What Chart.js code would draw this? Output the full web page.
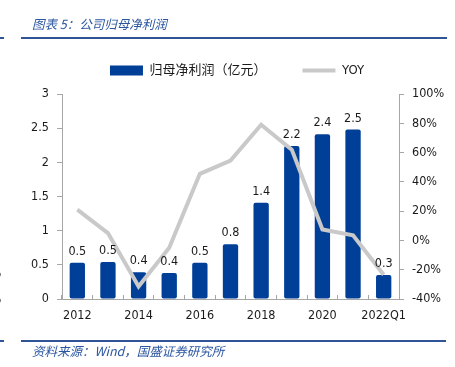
<!DOCTYPE html>
<html lang="zh-CN">
<head>
  <meta charset="UTF-8">
  <title>公司归母净利润</title>
  <script src="https://cdn.jsdelivr.net/npm/chart.js"></script>
  <style>
    html, body { margin: 0; padding: 0; background: #fff; }
    #wrap { position: relative; width: 455px; height: 367px; overflow: hidden; font-family: 'Noto Sans CJK SC', sans-serif; }
    #chart-box { position: absolute; left: 0; top: 0; width: 455px; height: 367px; }
    .title { position: absolute; left: 32px; top: 14px; font-size: 12.5px; font-style: italic; color: #2a55a0; white-space: nowrap; }
    .source { position: absolute; left: 32px; top: 341px; font-size: 12.5px; font-style: italic; color: #2a55a0; white-space: nowrap; }
    .rule { position: absolute; height: 2px; background: #2f5597; }
    .frag { position: absolute; left: -9px; font-size: 12px; color: #333; font-family: 'DejaVu Sans Condensed', 'DejaVu Sans', sans-serif; }
  </style>
</head>
<body>
  <div id="wrap">
    <div id="chart-box"><canvas id="profitChart"></canvas></div>
    <div class="title">图表 5：公司归母净利润</div>
    <div class="rule" style="left:21px; width:426px; top:37px;"></div>
    <div class="rule" style="left:0; width:4px; top:37px;"></div>
    <div class="rule" style="left:21px; width:425px; top:340px;"></div>
    <div class="rule" style="left:0; width:4px; top:340px;"></div>
    <div class="frag" style="top:266px;">%</div>
    <div class="frag" style="top:292px;">%</div>
    <div class="source">资料来源：Wind，国盛证券研究所</div>
  </div>

  <script>
    const categories = ['2012', '2013', '2014', '2015', '2016', '2017', '2018', '2019', '2020', '2021', '2022Q1'];
    const netProfit = [0.53, 0.54, 0.39, 0.38, 0.53, 0.80, 1.41, 2.24, 2.41, 2.48, 0.35];
    const yoy = [21, 5, -31.5, -5, 45.5, 54.5, 79, 62, 7.5, 3.5, -23.5];
    const leftTicks = { min: 0, max: 3, step: 0.5 };
    const rightTicks = { min: -40, max: 100, step: 20 };

    const numFont = "'DejaVu Sans Condensed', 'DejaVu Sans', 'Noto Sans CJK SC', sans-serif";
    const axisGray = '#a6a6a6';

    // 柱子上方的数值标签
    const barLabels = {
      id: 'barLabels',
      afterDatasetsDraw(chart) {
        const meta = chart.getDatasetMeta(0);
        const ctx = chart.ctx;
        ctx.save();
        ctx.font = '12.5px ' + numFont;
        ctx.fillStyle = '#1a1a1a';
        ctx.textAlign = 'center';
        ctx.textBaseline = 'alphabetic';
        meta.data.forEach((bar, i) => {
          ctx.fillText(netProfit[i].toFixed(1), bar.x, bar.y - 8);
        });
        ctx.restore();
      }
    };

    // 图例和绘图区之间多留一点空
    const legendGap = {
      id: 'legendGap',
      afterInit(chart) {
        const lg = chart.legend;
        if (!lg) return;
        const fit = lg.fit;
        lg.fit = function () { fit.call(this); this.height += 7; };
      }
    };

    new Chart(document.getElementById('profitChart'), {
      type: 'bar',
      data: {
        labels: categories,
        datasets: [{
          label: '归母净利润（亿元）',
          data: netProfit,
          backgroundColor: '#003f98',
          borderRadius: 2,
          borderSkipped: false,
          barPercentage: 0.5,
          categoryPercentage: 1,
          pointStyle: 'rect',
          yAxisID: 'y',
          order: 1
        }, {
          type: 'line',
          label: 'YOY',
          data: yoy,
          borderColor: '#c9c9c9',
          backgroundColor: '#c9c9c9',
          borderWidth: 4,
          pointRadius: 0,
          tension: 0,
          pointStyle: 'line',
          yAxisID: 'y1',
          order: 0
        }]
      },
      options: {
        responsive: true,
        maintainAspectRatio: false,
        animation: false,
        layout: { padding: { left: 19, right: 0, top: 28, bottom: 40 } },
        plugins: {
          tooltip: { enabled: false },
          legend: {
            position: 'top',
            labels: {
              usePointStyle: true,
              pointStyleWidth: 33,
              boxHeight: 10,
              padding: 36,
              color: '#1a1a1a',
              font: { size: 13, family: numFont },
              sort: (a, b) => a.datasetIndex - b.datasetIndex
            }
          }
        },
        scales: {
          x: {
            offset: true,
            afterFit: s => { s.height = 28; },
            grid: { drawOnChartArea: false, tickLength: -4, color: axisGray },
            border: { color: axisGray },
            ticks: {
              autoSkip: false,
              maxRotation: 0,
              padding: 13,
              color: '#1a1a1a',
              font: { size: 12.5, family: numFont },
              callback: (v, i) => (i % 2 === 0 ? categories[i] : '')
            }
          },
          y: {
            position: 'left',
            min: leftTicks.min,
            max: leftTicks.max,
            afterFit: s => { s.width = 43; },
            grid: { drawOnChartArea: false, tickLength: 5, color: axisGray },
            border: { color: axisGray },
            ticks: {
              stepSize: leftTicks.step,
              padding: 8,
              color: '#1a1a1a',
              font: { size: 12.5, family: numFont },
              callback: v => String(Math.round(v * 10) / 10)
            }
          },
          y1: {
            position: 'right',
            min: rightTicks.min,
            max: rightTicks.max,
            afterFit: s => { s.width = 56; },
            grid: { drawOnChartArea: false, tickLength: 5, color: axisGray },
            border: { color: axisGray },
            ticks: {
              stepSize: rightTicks.step,
              padding: 8,
              color: '#1a1a1a',
              font: { size: 12.5, family: numFont },
              callback: v => v + '%'
            }
          }
        }
      },
      plugins: [barLabels, legendGap]
    });
  </script>
</body>
</html>
